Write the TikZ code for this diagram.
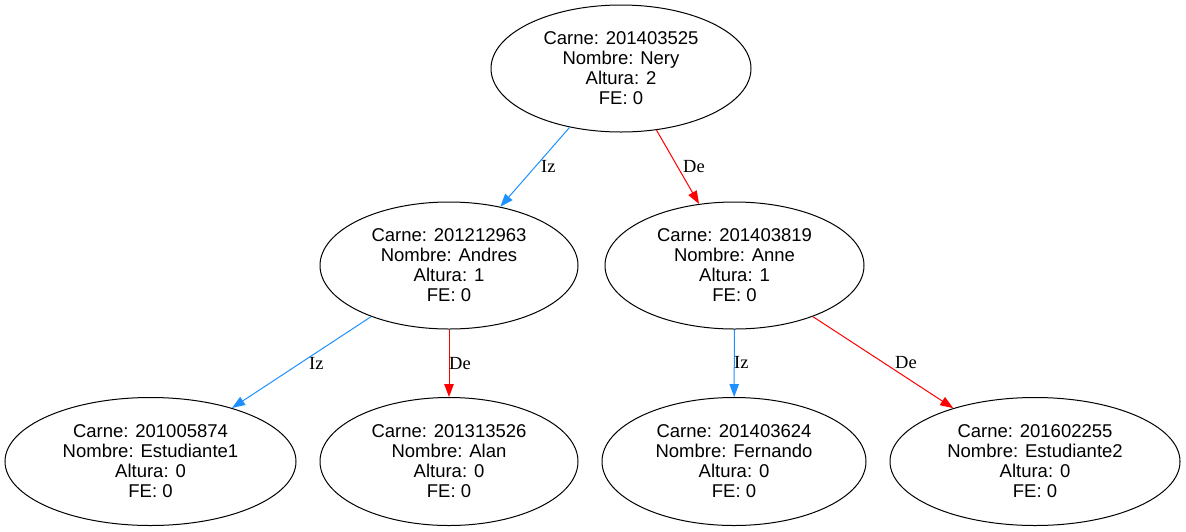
\documentclass[tikz,border=0pt]{standalone}
\usepackage{fontspec}
\setmainfont{Liberation Sans}
\newfontfamily\lblfont{Liberation Serif}
\usetikzlibrary{arrows.meta,shapes.geometric}
\definecolor{izblue}{RGB}{30,144,255}
\definecolor{dered}{RGB}{255,0,0}
\begin{document}
\begin{tikzpicture}[x=1pt,y=-1pt,
  tnode/.style={ellipse, draw=black, line width=1pt, inner sep=0pt, align=center,
    font=\fontsize{18.5}{20}\selectfont, minimum height=127pt},
  izedge/.style={draw=izblue, line width=1pt, -{Triangle[length=13pt,width=9.5pt,fill=izblue]}},
  deedge/.style={draw=dered, line width=1pt, -{Triangle[length=13pt,width=9.5pt,fill=dered]}},
  lbl/.style={inner sep=0pt, anchor=base west, font=\lblfont\fontsize{18.5}{20}\selectfont}
]
\useasboundingbox (0,0) rectangle (1186,531);

\node[tnode, minimum width=260pt] (r) at (621,68.5) {Carne: 201403525\\Nombre: Nery\\Altura: 2\\FE: 0};
\node[tnode, minimum width=258pt] (an) at (449,265.5) {Carne: 201212963\\Nombre: Andres\\Altura: 1\\FE: 0};
\node[tnode, minimum width=259pt] (ne) at (734.5,265.5) {Carne: 201403819\\Nombre: Anne\\Altura: 1\\FE: 0};
\node[tnode, minimum width=291pt, minimum height=128pt] (e1) at (150.5,461.5) {Carne: 201005874\\Nombre: Estudiante1\\Altura: 0\\FE: 0};
\node[tnode, minimum width=258pt, minimum height=128pt] (al) at (449,461.5) {Carne: 201313526\\Nombre: Alan\\Altura: 0\\FE: 0};
\node[tnode, minimum width=264pt, minimum height=128pt] (fe) at (734,461.5) {Carne: 201403624\\Nombre: Fernando\\Altura: 0\\FE: 0};
\node[tnode, minimum width=290pt, minimum height=128pt] (e2) at (1035,461.5) {Carne: 201602255\\Nombre: Estudiante2\\Altura: 0\\FE: 0};

\draw[izedge] (r) -- (an);
\draw[deedge] (r) -- (ne);
\draw[izedge] (an) -- (e1);
\draw[deedge] (an) -- (al);
\draw[izedge] (ne) -- (fe);
\draw[deedge] (ne) -- (e2);

\node[lbl] (l1) at (541,172) {Iz};
\node[lbl] (l2) at (683,172) {De};
\node[lbl] (l3) at (309,369) {Iz};
\node[lbl] (l4) at (449,369) {De};
\node[lbl] (l5) at (734,368) {Iz};
\node[lbl] (l6) at (895,368) {De};
\end{tikzpicture}
\end{document}
